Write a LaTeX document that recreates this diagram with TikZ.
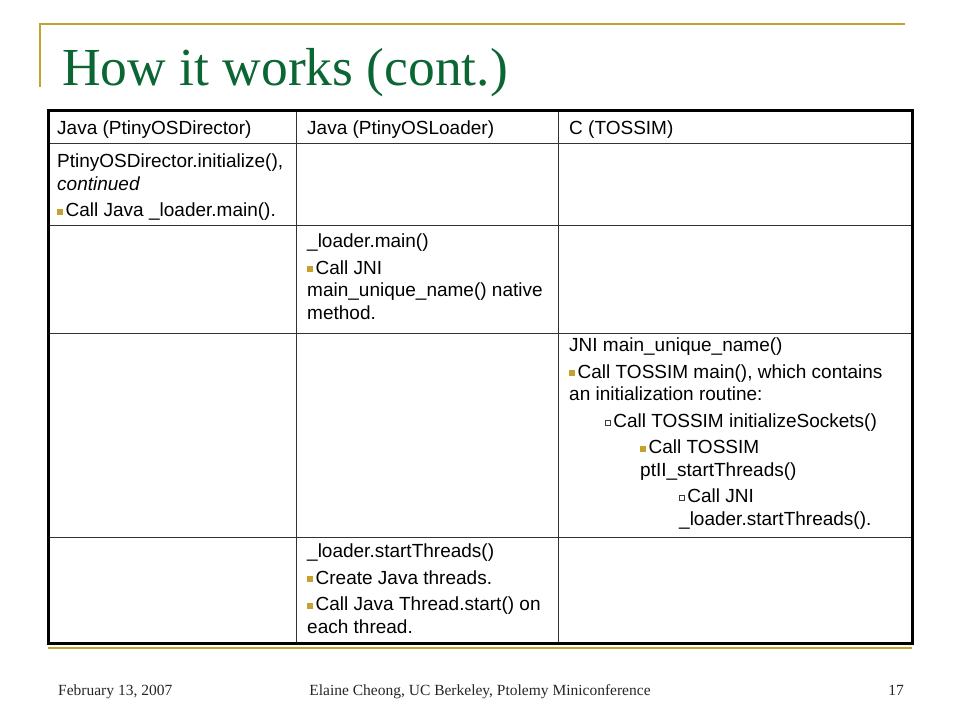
\documentclass[tikz,border=0pt]{standalone}
\usepackage{fontspec}
\setmainfont{Liberation Serif}
\setsansfont{Liberation Sans}
\usetikzlibrary{positioning}
\definecolor{SLGOLD}{HTML}{C4A232}
\definecolor{SLGREEN}{HTML}{0B6634}
\definecolor{SLGRAY}{HTML}{3A3A3A}

% bullets: filled gold square, hollow gray square
\newcommand{\fbul}{\tikz[baseline=-2pt]\fill[SLGOLD] (0pt,0pt) rectangle (6pt,6pt);\hspace{2.5pt}}
\newcommand{\hbul}{\tikz[baseline=-2.5pt]\draw[SLGRAY, line width=0.6pt] (0pt,0pt) rectangle (5pt,5pt);\hspace{2.5pt}}

\begin{document}
\begin{tikzpicture}[x=1pt, y=-1pt,
    cell/.style={anchor=north west, inner sep=0pt, align=left,
                 font=\sffamily\fontsize{19}{22.5}\selectfont},
    grid/.style={draw=black!80, line width=1pt},
    foot/.style={anchor=base, inner sep=0pt, text=black!85,
                 font=\fontsize{15.5}{18}\selectfont}
  ]
  \useasboundingbox (0,0) rectangle (960,720);

  % title bar
  \draw[SLGOLD, line width=2pt] (40,87) -- (40,24) -- (905,24);
  \node[anchor=base west, inner sep=0pt, text=SLGREEN,
        font=\fontsize{53.5}{60}\selectfont] (title) at (62,85) {How it works (cont.)};

  % table
  \foreach \x in {296,558} \draw[grid] (\x,110) -- (\x,643);
  \foreach \y in {143,225,333,537} \draw[grid] (48,\y) -- (912,\y);
  \draw[line width=3pt] (48,110) rectangle (912,643);
  \draw[SLGOLD, line width=2.5pt] (48,648) -- (912,648);

  \node[cell] (hdir) at (57,121) {Java (PtinyOSDirector)};
  \node[cell] (hload) at (307,121) {Java (PtinyOSLoader)};
  \node[cell] (hsim) at (569,121) {C (TOSSIM)};

  \node[cell] (dinit) at (57,154) {PtinyOSDirector.initialize(),\\
    \textit{continued}\\[4pt]
    \fbul Call Java \_loader.main().};
  \node[cell] (lmain) at (307,234) {\_loader.main()\\[4pt]
    \fbul Call JNI\\
    main\_unique\_name() native\\
    method.};
  \node[cell] (sjni) at (569,338) {JNI main\_unique\_name()\\[4pt]
    \fbul Call TOSSIM main(), which contains\\
    an initialization routine:\\[4pt]
    \hspace*{36pt}\hbul Call TOSSIM initializeSockets()\\[4pt]
    \hspace*{71pt}\fbul Call TOSSIM\\
    \hspace*{71pt}ptII\_startThreads()\\[4pt]
    \hspace*{110pt}\hbul Call JNI\\
    \hspace*{110pt}\_loader.startThreads().};
  \node[cell] (lthreads) at (307,544) {\_loader.startThreads()\\[4pt]
    \fbul Create Java threads.\\[4pt]
    \fbul Call Java Thread.start() on\\
    each thread.};

  % footer
  \node[foot, anchor=base west] (date) at (58,695) {February 13, 2007};
  \node[foot] (event) at (480,695) {Elaine Cheong, UC Berkeley, Ptolemy Miniconference};
  \node[foot, anchor=base east] (page) at (904,695) {17};
\end{tikzpicture}
\end{document}
